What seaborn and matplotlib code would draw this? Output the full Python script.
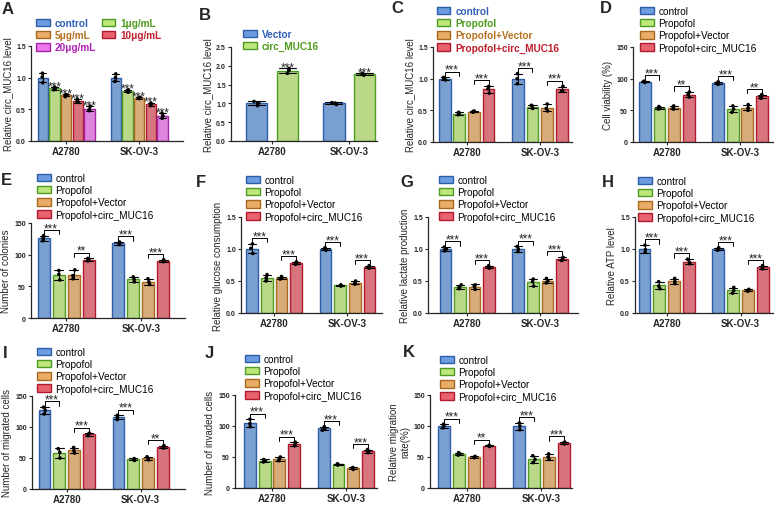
import numpy as np
import pandas as pd
import matplotlib
matplotlib.use('Agg')
import matplotlib.pyplot as plt
from matplotlib.patches import Patch
import seaborn as sns

sns.set_style('ticks')
plt.rcParams['font.family'] = ['Liberation Sans', 'DejaVu Sans']

# ---- data (3 replicates per bar) ----
groups = ['A2780', 'SK-OV-3']
doses = ['control', '1μg/mL', '5μg/mL', '10μg/mL', '20μg/mL']
vec_conds = ['Vector', 'circ_MUC16']
conds = ['control', 'Propofol', 'Propofol+Vector', 'Propofol+circ_MUC16']

A_vals = [[[1.07, 0.92, 1.01], [0.85, 0.81, 0.83], [0.73, 0.70, 0.73], [0.66, 0.61, 0.62], [0.55, 0.48, 0.50]],
          [[1.06, 0.94, 1.00], [0.81, 0.77, 0.79], [0.69, 0.67, 0.68], [0.60, 0.56, 0.58], [0.44, 0.36, 0.40]]]
B_vals = [[[1.05, 0.94, 1.01], [1.93, 1.80, 1.88]],
          [[1.02, 0.97, 1.01], [1.80, 1.75, 1.79]]]
C_vals = [[[1.02, 0.98, 1.00], [0.47, 0.43, 0.45], [0.49, 0.47, 0.48], [0.88, 0.77, 0.84]],
          [[1.08, 0.92, 1.00], [0.58, 0.53, 0.57], [0.60, 0.49, 0.53], [0.88, 0.80, 0.81]]]
D_vals = [[[96, 94, 95], [56, 52, 54], [57, 52, 54], [79, 71, 75]],
          [[95, 91, 93], [57, 47, 52], [59, 50, 54], [75, 69, 72]]]
E_vals = [[[130, 122, 126], [75, 60, 69], [76, 62, 67], [94, 90, 92]],
          [[120, 116, 118], [65, 57, 61], [62, 53, 57], [92, 89, 90]]]
F_vals = [[[1.08, 0.93, 1.01], [0.60, 0.50, 0.55], [0.57, 0.53, 0.55], [0.80, 0.76, 0.78]],
          [[1.02, 0.98, 1.00], [0.44, 0.42, 0.43], [0.50, 0.45, 0.47], [0.74, 0.70, 0.72]]]
G_vals = [[[1.03, 0.97, 1.00], [0.44, 0.38, 0.41], [0.44, 0.37, 0.42], [0.74, 0.70, 0.72]],
          [[1.04, 0.96, 1.00], [0.53, 0.42, 0.49], [0.54, 0.47, 0.50], [0.87, 0.82, 0.86]]]
H_vals = [[[1.06, 0.95, 0.99], [0.49, 0.38, 0.42], [0.54, 0.46, 0.49], [0.84, 0.77, 0.79]],
          [[1.02, 0.98, 1.00], [0.40, 0.31, 0.35], [0.37, 0.34, 0.35], [0.74, 0.69, 0.71]]]
I_vals = [[[132, 121, 127], [65, 50, 59], [67, 58, 62], [90, 86, 88]],
          [[119, 112, 116], [49, 46, 48], [52, 47, 49], [70, 66, 68]]]
J_vals = [[[111, 99, 104], [46, 42, 44], [50, 44, 47], [74, 68, 71]],
          [[99, 93, 96], [39, 37, 38], [33, 30, 32], [62, 57, 59]]]
K_vals = [[[103, 97, 100], [57, 53, 55], [51, 49, 50], [69, 67, 68]],
          [[105, 94, 100], [52, 41, 46], [55, 46, 50], [74, 71, 73]]]

ALL3 = [['***', '***'], ['***', '***']]
C_sig = ALL3
D_sig = [['***', '**'], ['***', '**']]
E_sig = [['***', '**'], ['***', '***']]
F_sig = ALL3
G_sig = ALL3
H_sig = ALL3
I_sig = [['***', '***'], ['***', '**']]
J_sig = ALL3
K_sig = [['***', '**'], ['***', '***']]

# colours
face = {'blue': '#6b9de0', 'green': '#bde77a', 'orange': '#e8ad68', 'red': '#e8636f', 'mag': '#ec78ec'}
edge = {'blue': '#2e5ea8', 'green': '#4f9a22', 'orange': '#a8681e', 'red': '#b01a2c', 'mag': '#a524a8'}
text_c = {'blue': '#2f5fb8', 'green': '#4c9a1c', 'orange': '#b8701e', 'red': '#c01c2c', 'mag': '#b020b4'}
dose_keys = ['blue', 'green', 'orange', 'red', 'mag']
vec_keys = ['blue', 'green']
cond_keys = ['blue', 'green', 'orange', 'red']

W, H = 777, 506
fig = plt.figure(figsize=(W / 100, H / 100), dpi=100)


def add_ax(l, t, r, b):
    return fig.add_axes([l / W, 1 - b / H, (r - l) / W, (b - t) / H])


def draw_panel(ax, vals, labels, keys, ymax, yticks, fmt, ylabel, xlim, gap=0.2):
    rows = []
    for g, grp in enumerate(groups):
        for c, lab in enumerate(labels):
            for v in vals[g][c]:
                rows.append((grp, lab, v))
    df = pd.DataFrame(rows, columns=['cell', 'cond', 'value'])
    pal = {lab: face[k] for lab, k in zip(labels, keys)}
    sns.barplot(data=df, x='cell', y='value', hue='cond', order=groups, hue_order=labels,
                palette=pal, errorbar='sd', capsize=0.45, gap=gap, linewidth=1.0,
                err_kws={'color': 'black', 'linewidth': 0.8}, legend=False, ax=ax)
    for cont, k in zip(ax.containers, keys):
        for bar in cont:
            bar.set_edgecolor(edge[k])
    sns.stripplot(data=df, x='cell', y='value', hue='cond', order=groups, hue_order=labels,
                  palette={lab: 'black' for lab in labels}, dodge=True, jitter=0.07,
                  size=2.6, legend=False, ax=ax)
    ax.set_ylim(0, ymax)
    ax.set_xlim(*xlim)
    ax.set_yticks(yticks)
    ax.set_yticklabels([fmt.format(t) for t in yticks], fontsize=5, fontweight='bold')
    ax.set_xticks([0, 1])
    ax.set_xticklabels(groups, fontsize=7, fontweight='bold')
    ax.set_xlabel('')
    ax.set_ylabel(ylabel, fontsize=7, labelpad=2)
    ax.tick_params(length=2.5, width=0.8, pad=1.2)
    for s in ['left', 'bottom']:
        ax.spines[s].set_linewidth(0.9)
    sns.despine(ax=ax)


def bar_top(vals, g, c):
    v = np.array(vals[g][c], dtype=float)
    return max(v.max(), v.mean() + v.std(ddof=1))


def bar_x(ax, g, c):
    b = ax.containers[c][g]
    return b.get_x() + b.get_width() / 2


def brackets(ax, vals, sig, ymax):
    for g in range(2):
        for p, (i, j) in enumerate([(0, 1), (2, 3)]):
            x1, x2 = bar_x(ax, g, i), bar_x(ax, g, j)
            y = max(bar_top(vals, g, i), bar_top(vals, g, j)) + 0.06 * ymax
            h = 0.045 * ymax
            ax.plot([x1, x1, x2, x2], [y - h, y, y, y - h], color='black', lw=0.7, clip_on=False)
            ax.annotate(sig[g][p], ((x1 + x2) / 2, y), xytext=(0, -3), textcoords='offset points',
                        ha='center', va='bottom', fontsize=8.5)


def stars_over(ax, vals, g, c):
    ax.annotate('***', (bar_x(ax, g, c), bar_top(vals, g, c)), xytext=(0, -3.5),
                textcoords='offset points', ha='center', va='bottom', fontsize=8.5)


def add_legend(labels, keys, x, y, colored=False, ncol=1, order=None):
    handles = [Patch(facecolor=face[k], edgecolor=edge[k], linewidth=1.0) for k in keys]
    labs = list(labels)
    tcols = [text_c[k] if colored else 'black' for k in keys]
    if order is not None:
        handles = [handles[i] for i in order]
        labs = [labs[i] for i in order]
        tcols = [tcols[i] for i in order]
    leg = fig.legend(handles, labs, loc='upper left', bbox_to_anchor=(x / W, 1 - y / H),
                     bbox_transform=fig.transFigure, frameon=False, borderpad=0,
                     borderaxespad=0, handlelength=1.35, handleheight=0.75,
                     handletextpad=0.5, labelspacing=0.22, ncol=ncol, columnspacing=0.6,
                     prop={'size': 7.2, 'weight': 'bold' if colored else 'normal'})
    for t, c in zip(leg.get_texts(), tcols):
        t.set_color(c)


def letter(s, x, y):
    fig.text(x / W, 1 - (y - 2) / H, s, fontsize=12, fontweight='bold', va='top', ha='left')


rel_ticks = [0.0, 0.5, 1.0, 1.5]
num_ticks = [0, 50, 100, 150]

# A
ax = add_ax(31, 47, 183, 142)
draw_panel(ax, A_vals, doses, dose_keys, 1.5, rel_ticks, '{:.1f}', 'Relative circ_MUC16 level', (-0.48, 1.6), gap=0.12)
for g in range(2):
    for c in range(1, 5):
        stars_over(ax, A_vals, g, c)
add_legend(doses, dose_keys, 36, 19, colored=True, ncol=2, order=[0, 2, 4, 1, 3])
letter('A', 2, 4)

# B
ax = add_ax(231, 48, 377, 142)
draw_panel(ax, B_vals, vec_conds, vec_keys, 2.5, [0.0, 0.5, 1.0, 1.5, 2.0, 2.5], '{:.1f}',
           'Relative circ_MUC16 level', (-0.53, 1.36), gap=0.3)
for g in range(2):
    stars_over(ax, B_vals, g, 1)
add_legend(vec_conds, vec_keys, 243, 30, colored=True)
letter('B', 199, 10)

# C
ax = add_ax(433, 48, 572, 143)
draw_panel(ax, C_vals, conds, cond_keys, 1.5, rel_ticks, '{:.1f}', 'Relative circ_MUC16 level', (-0.46, 1.44))
brackets(ax, C_vals, C_sig, 1.5)
add_legend(conds, cond_keys, 437, 7, colored=True)
letter('C', 391, 3)

# D
ax = add_ax(633, 48, 773, 143)
draw_panel(ax, D_vals, conds, cond_keys, 150, num_ticks, '{}', 'Cell viability (%)', (-0.46, 1.45))
brackets(ax, D_vals, D_sig, 150)
add_legend(conds, cond_keys, 640, 7)
letter('D', 600, 3)

# E
ax = add_ax(31, 224, 185, 319)
draw_panel(ax, E_vals, conds, cond_keys, 150, num_ticks, '{}', 'Number of colonies', (-0.47, 1.59))
brackets(ax, E_vals, E_sig, 150)
add_legend(conds, cond_keys, 37, 174)
letter('E', 1, 175)

# F
ax = add_ax(241, 218, 382, 314)
draw_panel(ax, F_vals, conds, cond_keys, 1.5, rel_ticks, '{:.1f}', 'Relative glucose consumption', (-0.45, 1.47))
brackets(ax, F_vals, F_sig, 1.5)
add_legend(conds, cond_keys, 246, 176)
letter('F', 196, 177)

# G
ax = add_ax(428, 218, 578, 314)
draw_panel(ax, G_vals, conds, cond_keys, 1.5, rel_ticks, '{:.1f}', 'Relative lactate production', (-0.54, 1.52))
brackets(ax, G_vals, G_sig, 1.5)
add_legend(conds, cond_keys, 439, 176)
letter('G', 400, 177)

# H
ax = add_ax(635, 218, 773, 314)
draw_panel(ax, H_vals, conds, cond_keys, 1.5, rel_ticks, '{:.1f}', 'Relative ATP level', (-0.43, 1.44))
brackets(ax, H_vals, H_sig, 1.5)
add_legend(conds, cond_keys, 638, 177)
letter('H', 602, 177)

# I
ax = add_ax(32, 397, 185, 490)
draw_panel(ax, I_vals, conds, cond_keys, 150, num_ticks, '{}', 'Number of migrated cells', (-0.47, 1.6))
brackets(ax, I_vals, I_sig, 150)
add_legend(conds, cond_keys, 37, 348)
letter('I', 3, 348)

# J
ax = add_ax(235, 396, 377, 489)
draw_panel(ax, J_vals, conds, cond_keys, 150, num_ticks, '{}', 'Number of invaded cells', (-0.5, 1.42))
brackets(ax, J_vals, J_sig, 150)
add_legend(conds, cond_keys, 245, 355)
letter('J', 205, 348)

# K
ax = add_ax(430, 396, 572, 489)
draw_panel(ax, K_vals, conds, cond_keys, 150, num_ticks, '{}', 'Relative migration\nrate(%)', (-0.49, 1.41))
brackets(ax, K_vals, K_sig, 150)
add_legend(conds, cond_keys, 440, 356)
letter('K', 403, 347)

fig.savefig('out.png', dpi=100)
